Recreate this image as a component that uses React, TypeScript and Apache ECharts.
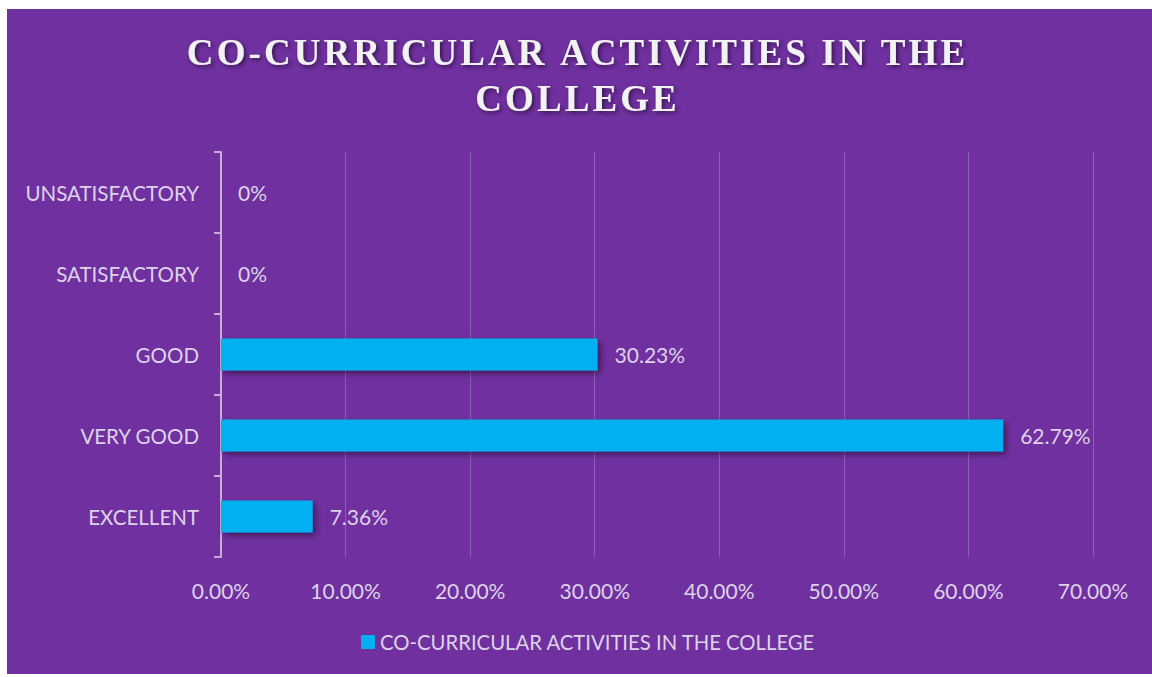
import React, { useEffect, useRef } from "react";
import * as echarts from "echarts";

const categories = ["EXCELLENT", "VERY GOOD", "GOOD", "SATISFACTORY", "UNSATISFACTORY"];
const values = [7.36, 62.79, 30.23, 0, 0];
const seriesName = "CO-CURRICULAR ACTIVITIES IN THE COLLEGE";
const titleLines = ["CO-CURRICULAR ACTIVITIES IN THE", "COLLEGE"];

const TEXT = "#ddd3e8";
const spaced = (s: string) => s.split("").join("\u200A");

export default function App() {
  const ref = useRef<HTMLDivElement>(null);
  useEffect(() => {
    document.body.style.margin = "0";
    const chart = echarts.init(ref.current!, undefined, { renderer: "svg" });
    chart.setOption({
      animation: false,
      backgroundColor: "#ffffff",
      graphic: [
        {
          type: "rect",
          z: -10,
          silent: true,
          shape: { x: 7, y: 9, width: 1145, height: 665 },
          style: { fill: "#7030A0" },
        },
      ],
      title: {
        text: titleLines.map(spaced).join("\n"),
        left: "center",
        top: 24,
        textStyle: {
          fontFamily: "Liberation Serif",
          fontWeight: "bold",
          fontSize: 37,
          lineHeight: 46,
          color: "#f2f2f2",
          textShadowColor: "rgba(0,0,0,0.55)",
          textShadowBlur: 4,
          textShadowOffsetX: 2,
          textShadowOffsetY: 2,
        },
      },
      grid: { left: 221, right: 59, top: 152, bottom: 120, containLabel: false },
      xAxis: {
        type: "value",
        min: 0,
        max: 70,
        interval: 10,
        axisLine: { show: false },
        axisTick: { show: false },
        splitLine: { show: true, lineStyle: { color: "rgba(255,255,255,0.22)", width: 1 } },
        axisLabel: {
          margin: 23,
          color: TEXT,
          fontFamily: "Lato",
          fontSize: 21,
          formatter: (v: number) => v.toFixed(2) + "%",
        },
      },
      yAxis: {
        type: "category",
        data: categories,
        axisLine: { show: true, lineStyle: { color: "#c4aed8", width: 2 } },
        axisTick: { show: true, length: 7, lineStyle: { color: "#c4aed8", width: 2 } },
        axisLabel: { margin: 22, color: TEXT, fontFamily: "Lato", fontSize: 20.5 },
      },
      legend: {
        bottom: 20,
        left: 356,
        icon: "rect",
        itemWidth: 14,
        itemHeight: 14,
        itemGap: 10,
        textStyle: { color: TEXT, fontFamily: "Lato", fontSize: 20.3 },
        data: [seriesName],
      },
      series: [
        {
          name: seriesName,
          type: "bar",
          data: values,
          barWidth: 32,
          itemStyle: {
            color: "#00B0F0",
            shadowColor: "rgba(0,0,0,0.45)",
            shadowBlur: 6,
            shadowOffsetX: 3,
            shadowOffsetY: 3,
          },
          label: {
            show: true,
            position: "right",
            distance: 17,
            color: TEXT,
            fontFamily: "Lato",
            fontSize: 21,
            formatter: (p: any) => (p.value === 0 ? "0%" : p.value.toFixed(2) + "%"),
          },
        },
      ],
    });
    return () => chart.dispose();
  }, []);
  return <div ref={ref} style={{ width: 1152, height: 677 }} />;
}
